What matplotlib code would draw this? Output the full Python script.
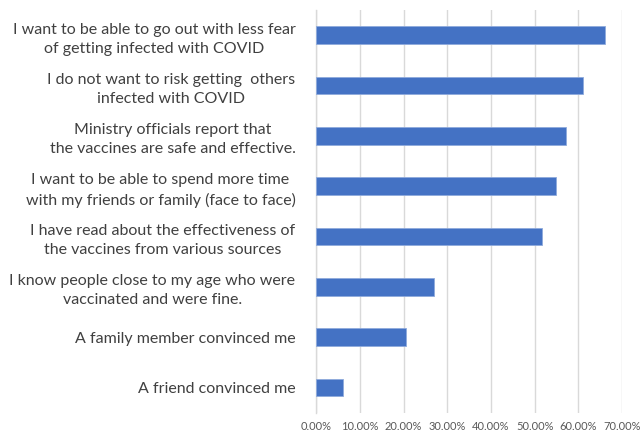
import matplotlib
matplotlib.use("Agg")
import matplotlib.pyplot as plt
from matplotlib.ticker import FuncFormatter

categories = [
    "I want to be able to go out with less fear\nof getting infected with COVID",
    "I do not want to risk getting  others\ninfected with COVID",
    "Ministry officials report that\nthe vaccines are safe and effective.",
    "I want to be able to spend more time\nwith my friends or family (face to face)",
    "I have read about the effectiveness of\nthe vaccines from various sources",
    "I know people close to my age who were\nvaccinated and were fine.",
    "A family member convinced me",
    "A friend convinced me",
]
values = [0.661, 0.610, 0.572, 0.549, 0.516, 0.269, 0.206, 0.062]
xticks = [0.0, 0.1, 0.2, 0.3, 0.4, 0.5, 0.6, 0.7]

plt.rcParams['font.family'] = ['Lato', 'DejaVu Sans']

fig = plt.figure(figsize=(6.42, 4.34), dpi=100)
ax = fig.add_axes([316.3/642, 1-412.7/434, (622-316.3)/642, (412.7-10)/434])

ypos = list(range(len(categories)))
ax.barh(ypos, values, height=0.35, color="#4472C4", edgecolor="#8FAADC", linewidth=0.6, zorder=3)
ax.set_ylim(len(categories)-0.5, -0.5)
ax.set_xlim(0, 0.7)
ax.set_xticks(xticks)
ax.xaxis.set_major_formatter(FuncFormatter(lambda v, p: f"{v*100:.2f}%"))
ax.set_yticks(ypos)
ax.set_yticklabels(categories, fontsize=11.5, color="#404040",
                   multialignment="center", linespacing=1.45)
ax.tick_params(axis='x', length=0, labelsize=8, labelcolor="#595959", pad=6)
ax.tick_params(axis='y', length=0, pad=15)
ax.grid(axis='x', color="#D9D9D9", linewidth=1.0, zorder=0)
for s in ['top', 'right', 'bottom']:
    ax.spines[s].set_visible(False)
ax.spines['left'].set_color("#D9D9D9")
ax.spines['left'].set_linewidth(1.0)

fig.savefig("out.png", dpi=100, facecolor="white")
